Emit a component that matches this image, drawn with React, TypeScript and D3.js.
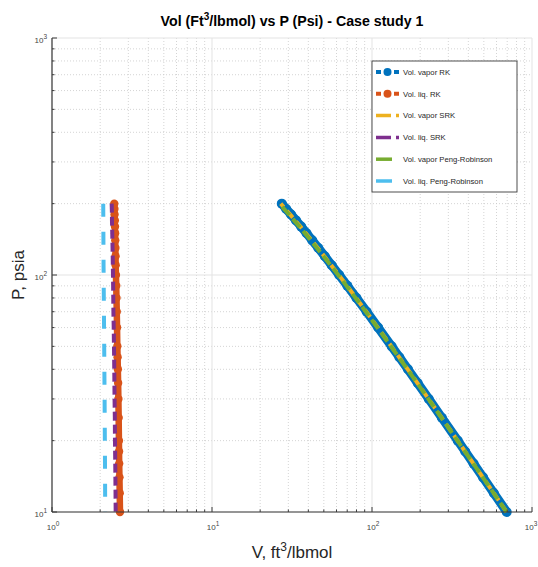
import React from "react";
import * as d3 from "d3";

const pressure = [10, 12, 14, 16, 18, 20, 25, 30, 35, 40, 45, 50, 60, 70, 80, 90, 100, 110, 120, 130, 140, 150, 160, 170, 180, 190, 200];

const volVaporRK = [695.0, 577.9, 494.2, 431.4, 382.6, 343.6, 273.3, 226.4, 193.0, 167.9, 148.3, 132.7, 109.3, 92.6, 80.0, 70.2, 62.4, 56.0, 50.7, 46.2, 42.3, 39.0, 36.1, 33.5, 31.2, 29.1, 27.3];
const volLiqRK = [2.66, 2.65, 2.64, 2.63, 2.625, 2.62, 2.61, 2.6, 2.59, 2.58, 2.57, 2.56, 2.55, 2.54, 2.53, 2.52, 2.51, 2.5, 2.495, 2.49, 2.485, 2.48, 2.475, 2.47, 2.46, 2.455, 2.45];
const volVaporSRK = [694.2, 577.0, 493.4, 430.6, 381.8, 342.9, 272.6, 225.8, 192.4, 167.3, 147.7, 132.1, 108.8, 92.1, 79.5, 69.8, 62.0, 55.6, 50.3, 45.8, 41.9, 38.6, 35.7, 33.1, 30.8, 28.7, 26.9];
const volLiqSRK = [2.5, 2.495, 2.49, 2.485, 2.48, 2.475, 2.47, 2.46, 2.455, 2.45, 2.445, 2.44, 2.43, 2.42, 2.415, 2.41, 2.405, 2.4, 2.395, 2.39, 2.385, 2.38, 2.375, 2.37, 2.37, 2.365, 2.36];
const volVaporPR = [693.5, 576.2, 492.6, 429.8, 381.0, 342.1, 271.8, 225.0, 191.7, 166.6, 147.0, 131.4, 108.2, 91.5, 79.0, 69.3, 61.5, 55.1, 49.8, 45.3, 41.4, 38.1, 35.2, 32.6, 30.3, 28.2, 26.5];
const volLiqPR = [2.15, 2.148, 2.146, 2.144, 2.142, 2.14, 2.135, 2.132, 2.128, 2.125, 2.122, 2.12, 2.115, 2.112, 2.108, 2.105, 2.103, 2.1, 2.099, 2.097, 2.096, 2.095, 2.094, 2.093, 2.092, 2.091, 2.09];

const legendLabels = ["Vol. vapor RK", "Vol. liq. RK", "Vol. vapor SRK", "Vol. liq. SRK", "Vol. vapor Peng-Robinson", "Vol. liq. Peng-Robinson"];
const xTickExps = [0, 1, 2, 3];
const yTickExps = [1, 2, 3];

const W = 538;
const H = 567;
const L = 52, R = 532, T = 38, B = 512;
const FONT = "'Liberation Sans', Arial, Helvetica, sans-serif";

type Series = {
  v: number[];
  color: string;
  width: number;
  dash?: string;
  marker?: number;
  legendDash: string;
  legendWidth: number;
  reverse?: boolean;
};

const series: Series[] = [
  { v: volVaporRK, color: "#0072BD", width: 9, marker: 5, legendDash: "5 4", legendWidth: 4 },
  { v: volLiqRK, color: "#D95319", width: 6.5, marker: 4.2, legendDash: "5 4", legendWidth: 4 },
  { v: volVaporSRK, color: "#EDB120", width: 4, dash: "9 5", legendDash: "15 5", legendWidth: 3.5 },
  { v: volLiqSRK, color: "#7E2F8E", width: 4, dash: "9 4", legendDash: "15 5", legendWidth: 3.5, reverse: true },
  { v: volVaporPR, color: "#77AC30", width: 4, dash: "11 5", legendDash: "16 10", legendWidth: 3.5 },
  { v: volLiqPR, color: "#4DBEEE", width: 4, dash: "13 15", legendDash: "16 10", legendWidth: 3.5, reverse: true },
];

export default function App() {
  const x = d3.scaleLog().domain([1, 1000]).range([L, R]);
  const y = d3.scaleLog().domain([10, 1000]).range([B, T]);

  const xTicksAll = x.ticks();
  const yTicksAll = y.ticks();
  const isMajor = (t: number) => Math.abs(Math.log10(t) - Math.round(Math.log10(t))) < 1e-9;

  const makeLine = (vals: number[], reverse?: boolean) => {
    const idx = pressure.map((_, i) => i);
    if (reverse) idx.reverse();
    return (
      d3
        .line<number>()
        .x((i) => x(vals[i]))
        .y((i) => y(pressure[i]))(idx) || ""
    );
  };

  const legX = 372, legY = 61, legW = 145, legH = 131;
  const legRowY = (i: number) => 72 + i * 21.8;

  return (
    <svg width={W} height={H} style={{ position: "absolute", left: 0, top: 0, background: "#fff" }} fontFamily={FONT}>
      <rect x={0} y={0} width={W} height={H} fill="#fff" />
      {/* minor grid */}
      {xTicksAll.filter((t) => !isMajor(t)).map((t) => (
        <line key={"xm" + t} x1={x(t)} x2={x(t)} y1={T} y2={B} stroke="#c9c9c9" strokeWidth={0.8} strokeDasharray="1 2" />
      ))}
      {yTicksAll.filter((t) => !isMajor(t)).map((t) => (
        <line key={"ym" + t} x1={L} x2={R} y1={y(t)} y2={y(t)} stroke="#c9c9c9" strokeWidth={0.8} strokeDasharray="1 2" />
      ))}
      {/* major grid */}
      {xTicksAll.filter((t) => isMajor(t)).map((t) => (
        <line key={"xM" + t} x1={x(t)} x2={x(t)} y1={T} y2={B} stroke="#e3e3e3" strokeWidth={1} />
      ))}
      {yTicksAll.filter((t) => isMajor(t)).map((t) => (
        <line key={"yM" + t} x1={L} x2={R} y1={y(t)} y2={y(t)} stroke="#e3e3e3" strokeWidth={1} />
      ))}

      {/* series */}
      {series.map((s, si) => (
        <g key={"s" + si}>
          <path
            d={makeLine(s.v, s.reverse)}
            fill="none"
            stroke={s.color}
            strokeWidth={s.width}
            strokeDasharray={s.dash}
            strokeLinejoin="round"
          />
          {s.marker
            ? s.v.map((v, i) => (
                <circle key={i} cx={x(v)} cy={y(pressure[i])} r={s.marker} fill={s.color} />
              ))
            : null}
        </g>
      ))}

      {/* axes */}
      <line x1={L} x2={L} y1={T} y2={B} stroke="#3a3a3a" strokeWidth={1.2} />
      <line x1={L} x2={R} y1={B} y2={B} stroke="#3a3a3a" strokeWidth={1.2} />
      {xTicksAll.map((t) => (
        <line key={"xt" + t} x1={x(t)} x2={x(t)} y1={B} y2={B - (isMajor(t) ? 5 : 2.5)} stroke="#3a3a3a" strokeWidth={1} />
      ))}
      {yTicksAll.map((t) => (
        <line key={"yt" + t} x1={L} x2={L + (isMajor(t) ? 5 : 2.5)} y1={y(t)} y2={y(t)} stroke="#3a3a3a" strokeWidth={1} />
      ))}

      {/* tick labels */}
      {xTickExps.map((e) => (
        <text key={"xl" + e} x={x(Math.pow(10, e)) + (e === 3 ? -1 : 1)} y={B + 18} textAnchor="middle" fontSize={8} fill="#444">
          10<tspan fontSize={6.5} dy={-4}>{e}</tspan>
        </text>
      ))}
      {yTickExps.map((e) => (
        <text key={"yl" + e} x={L - 5} y={y(Math.pow(10, e)) + 5} textAnchor="end" fontSize={8} fill="#444">
          10<tspan fontSize={6.5} dy={-4}>{e}</tspan>
        </text>
      ))}

      {/* title */}
      <text x={292} y={26} textAnchor="middle" fontSize={14.2} fontWeight="bold" fill="#000">
        Vol (Ft<tspan fontSize={10} dy={-6}>3</tspan>
        <tspan dy={6}>/lbmol) vs P (Psi) - Case study 1</tspan>
      </text>

      {/* axis labels */}
      <text x={292} y={558} textAnchor="middle" fontSize={17} fill="#262626">
        V, ft<tspan fontSize={12} dy={-7}>3</tspan>
        <tspan dy={7}>/lbmol</tspan>
      </text>
      <text transform={`translate(24,${(T + B) / 2}) rotate(-90)`} textAnchor="middle" fontSize={17} fill="#262626">
        P, psia
      </text>

      {/* legend */}
      <rect x={legX} y={legY} width={legW} height={legH} fill="#fff" stroke="#3a3a3a" strokeWidth={0.9} />
      {series.map((s, i) => (
        <g key={"lg" + i}>
          <line
            x1={376}
            x2={399}
            y1={legRowY(i)}
            y2={legRowY(i)}
            stroke={s.color}
            strokeWidth={s.legendWidth}
            strokeDasharray={s.legendDash}
          />
          {s.marker ? <circle cx={387.5} cy={legRowY(i)} r={4} fill={s.color} /> : null}
          <text x={403} y={legRowY(i) + 2.7} fontSize={7.7} fill="#262626">
            {legendLabels[i]}
          </text>
        </g>
      ))}
    </svg>
  );
}
